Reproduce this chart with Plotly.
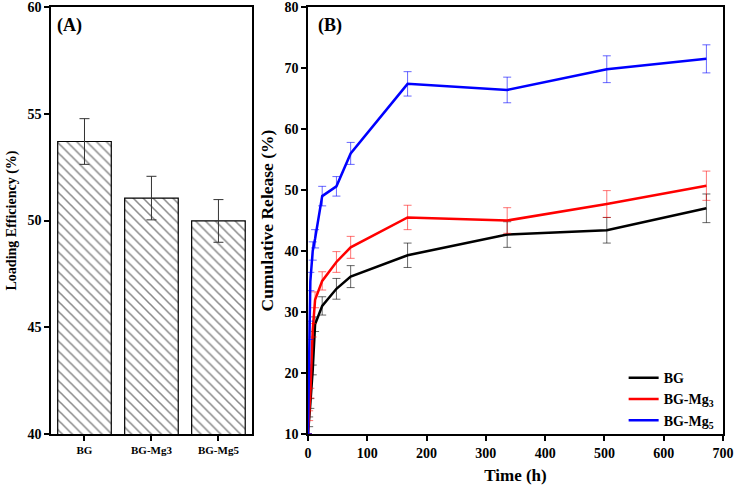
import plotly.graph_objects as go

# panel A - loading efficiency
samples = ["BG", "BG-Mg3", "BG-Mg5"]
loading = [53.7, 51.05, 49.98]
loading_err = [1.07, 1.02, 1.0]

# panel B - cumulative release
time_h = [0, 2, 4, 8, 12, 24, 48, 72, 168, 336, 504, 672]
rel_bg = [10, 12, 15, 20.5, 28, 31, 33.8, 35.8, 39.3, 42.7, 43.4, 47]
rel_bg_err = [0, 0.8, 0.8, 0.8, 1.2, 1.5, 1.7, 1.8, 2.0, 2.1, 2.1, 2.35]
rel_mg3 = [10, 13, 16.7, 27, 32, 35.1, 38.2, 40.6, 45.5, 45.0, 47.7, 50.7]
rel_mg3_err = [0, 0.8, 0.8, 1.1, 1.3, 1.5, 1.7, 1.8, 2.0, 2.1, 2.2, 2.4]
rel_mg5 = [10, 27, 35, 40, 42, 49, 50.6, 56, 67.4, 66.4, 69.8, 71.5]
rel_mg5_err = [0, 1.5, 1.5, 1.5, 1.5, 1.6, 1.6, 1.8, 2.0, 2.1, 2.2, 2.3]

font = "Liberation Serif"

fig = go.Figure()

fig.add_trace(go.Bar(
    x=samples, y=loading, xaxis="x", yaxis="y", width=0.8,
    marker=dict(color="white", line=dict(color="black", width=1.2),
                pattern=dict(shape="\\", fgcolor="#111111", bgcolor="white",
                             size=7, solidity=0.22)),
    error_y=dict(type="data", array=loading_err, color="#333333", thickness=1, width=5),
    showlegend=False,
))

series = [
    ("<b>BG</b>", rel_bg, rel_bg_err, "black", "rgba(0,0,0,0.6)"),
    ("<b>BG-Mg<sub>3</sub></b>", rel_mg3, rel_mg3_err, "#ff0000", "rgba(255,0,0,0.55)"),
    ("<b>BG-Mg<sub>5</sub></b>", rel_mg5, rel_mg5_err, "#0000ff", "rgba(0,0,255,0.6)"),
]
for name, vals, err, col, ecol in series:
    fig.add_trace(go.Scatter(
        x=time_h, y=vals, xaxis="x2", yaxis="y2", mode="lines", name=name,
        line=dict(color=col, width=2.5),
        error_y=dict(type="data", array=err, color=ecol, thickness=1, width=4),
    ))

axis_common = dict(showline=True, linecolor="black", linewidth=1.5, mirror=True,
                   ticks="outside", ticklen=5, tickwidth=1.5, tickcolor="black",
                   showgrid=False, zeroline=False, automargin=False,
                   ticklabeloverflow="allow",
                   tickprefix="<b>", ticksuffix="</b>",
                   tickfont=dict(family=font, size=14, color="black"))

fig.update_layout(
    width=734, height=489,
    margin=dict(l=51, r=11, t=7, b=55),
    plot_bgcolor="white", paper_bgcolor="white",
    font=dict(family=font, color="black"),
    xaxis=dict(axis_common, domain=[0, 0.299], range=[-0.5, 2.5],
               tickfont=dict(family=font, size=11, color="black")),
    yaxis=dict(axis_common, range=[40, 60], dtick=5,
               title=dict(text="<b>Loading Efficiency (%)</b>", font=dict(size=14), standoff=8)),
    xaxis2=dict(axis_common, domain=[0.3824, 1], anchor="y2", range=[0, 700], dtick=100,
                title=dict(text="<b>Time (h)</b>", font=dict(size=17), standoff=10)),
    yaxis2=dict(axis_common, anchor="x2", range=[10, 80], dtick=10,
                title=dict(text="<b>Cumulative Release (%)</b>", font=dict(size=17.5), standoff=6)),
    legend=dict(x=0.995, y=-0.005, xanchor="right", yanchor="bottom",
                bgcolor="rgba(0,0,0,0)", font=dict(family=font, size=14, color="black"),
                tracegroupgap=0, itemwidth=30),
    bargap=0.2,
)

fig.add_annotation(text="<b>(A)</b>", x=0.02, y=0.985, xref="x domain", yref="y domain",
                   xanchor="left", yanchor="top", showarrow=False,
                   font=dict(family=font, size=18, color="black"))
fig.add_annotation(text="<b>(B)</b>", x=0.02, y=0.985, xref="x2 domain", yref="y2 domain",
                   xanchor="left", yanchor="top", showarrow=False,
                   font=dict(family=font, size=18, color="black"))

fig.write_html("out.html", config={"displayModeBar": False},
               post_script="document.body.style.margin='0';")
